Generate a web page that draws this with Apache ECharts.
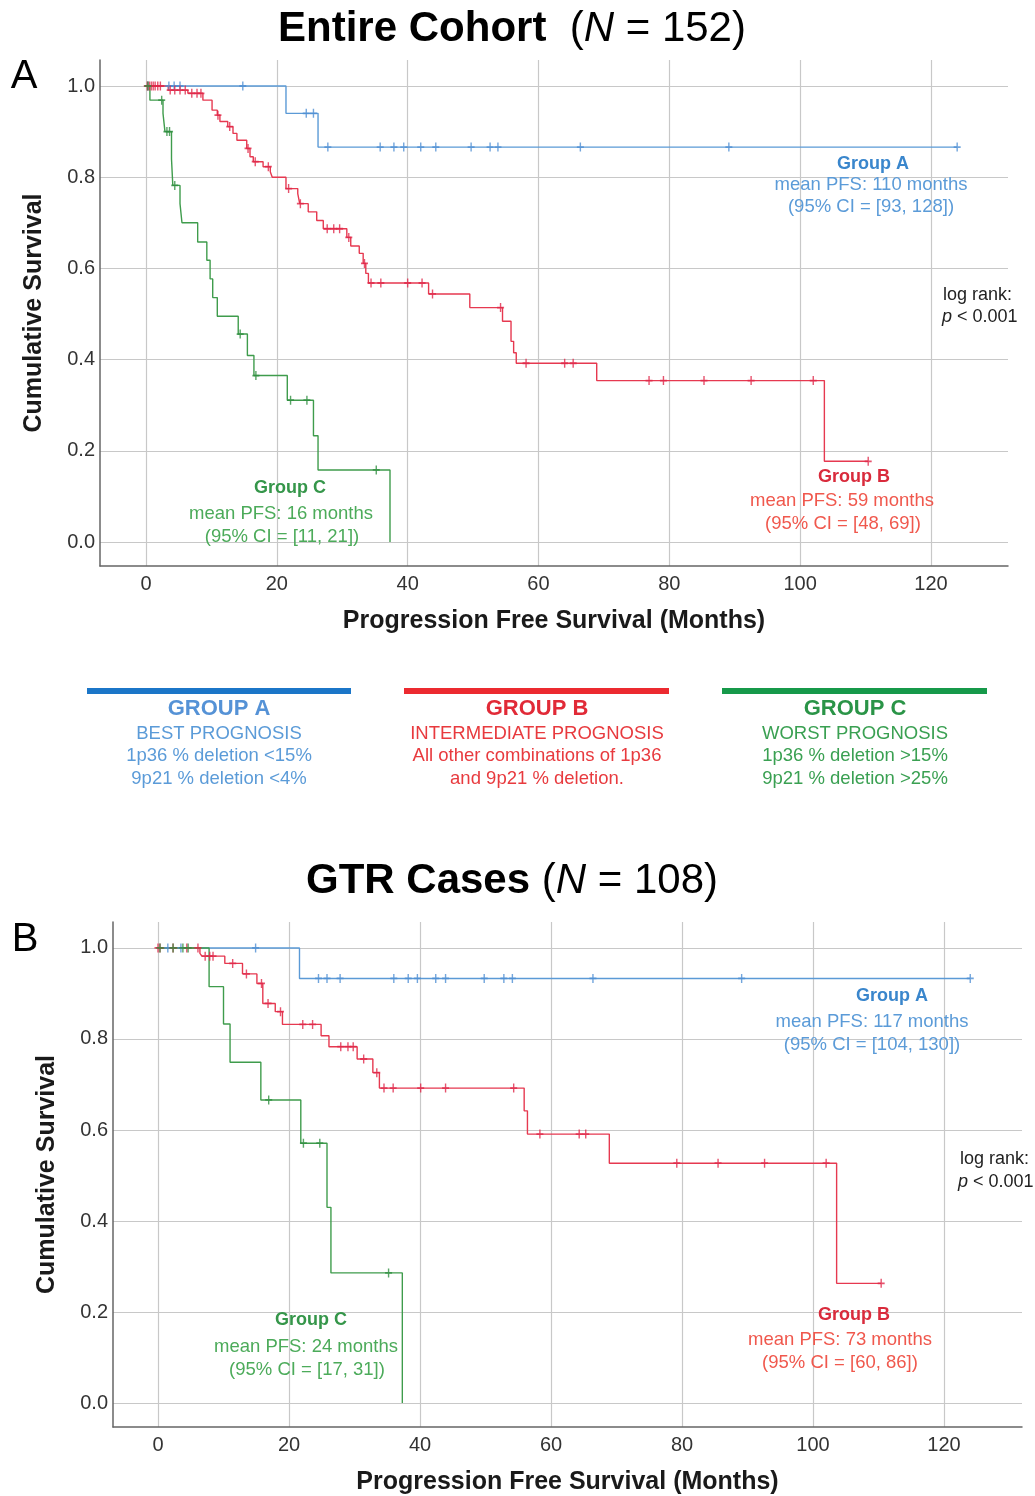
<!DOCTYPE html>
<html><head><meta charset="utf-8">
<script src="https://cdn.jsdelivr.net/npm/echarts@6/dist/echarts.min.js"></script>
<style>html,body{margin:0;padding:0;background:#fff}#c{width:1035px;height:1496px}</style>
</head><body><div id="c"></div>
<script>
const FONT = 'Liberation Sans, Arial, Helvetica, sans-serif';
const xTicks = [0, 20, 40, 60, 80, 100, 120];
const yTicks = [0, 0.2, 0.4, 0.6, 0.8, 1.0];

// ---- Panel A: Entire cohort ----
const aGrpATimes = [0, 21.4, 26.3];
const aGrpASurv  = [1, 0.94, 0.866];
const aGrpAEnd   = 124;
const aGrpACens  = [0.3, 3.5, 4.3, 5.2, 14.8, 24.5, 25.6, 27.8, 35.8, 37.9, 39.4, 42.0, 44.3, 49.7, 52.6, 53.8, 66.4, 89.1, 124.0];

const aGrpBTimes = [0, 3.4, 6.4, 8.7, 10.1, 10.9, 11.3, 12.5, 13.3, 13.9, 15.4, 15.9, 16.4, 17.9, 19.0, 19.3, 21.4, 23.2, 23.5, 24.8, 26.1, 27.1, 30.7, 31.3, 32.6, 33.2, 33.6, 34.0, 43.2, 49.5, 54.5, 55.8, 56.2, 56.6, 68.9, 103.7];
const aGrpBSurv  = [1, 0.991, 0.984, 0.969, 0.947, 0.936, 0.922, 0.911, 0.896, 0.881, 0.863, 0.845, 0.834, 0.823, 0.812, 0.80, 0.775, 0.764, 0.742, 0.724, 0.705, 0.687, 0.668, 0.649, 0.633, 0.611, 0.589, 0.568, 0.544, 0.514, 0.484, 0.44, 0.415, 0.392, 0.354, 0.177];
const aGrpBEnd   = 110.4;
const aGrpBCens  = [0.2, 0.5, 0.8, 1.1, 1.4, 1.8, 2.2, 3.7, 4.4, 5.2, 6.0, 7.0, 7.8, 8.4, 11.0, 12.8, 15.6, 16.7, 18.7, 21.8, 23.6, 27.7, 28.7, 29.6, 31.0, 33.4, 34.4, 35.9, 40.0, 42.2, 43.8, 54.2, 58.1, 64.0, 65.3, 76.9, 79.1, 85.3, 92.5, 102.0, 110.4];

const aGrpCTimes = [0, 0.6, 2.6, 2.9, 3.9, 4.1, 5.2, 5.5, 7.9, 9.3, 9.8, 10.2, 10.9, 14.1, 15.5, 16.5, 21.6, 25.6, 26.3, 37.3];
const aGrpCSurv  = [1, 0.969, 0.94, 0.90, 0.84, 0.782, 0.742, 0.70, 0.658, 0.618, 0.577, 0.536, 0.495, 0.456, 0.409, 0.365, 0.311, 0.233, 0.158, 0];
const aGrpCEnd   = 37.3;
const aGrpCCens  = [0.3, 2.4, 3.2, 3.6, 4.4, 14.4, 16.8, 22.1, 24.6, 35.2];

// ---- Panel B: GTR cases ----
const bGrpATimes = [0, 21.6];
const bGrpASurv  = [1, 0.933];
const bGrpAEnd   = 124;
const bGrpACens  = [1.5, 3.5, 14.9, 24.5, 25.8, 27.8, 36.0, 38.2, 39.6, 42.4, 43.9, 49.8, 52.8, 54.1, 66.4, 89.1, 124.0];

const bGrpBTimes = [0, 6.4, 6.7, 10.2, 12.9, 15.1, 16.0, 17.9, 19.0, 24.9, 26.1, 30.4, 32.8, 33.8, 55.9, 56.4, 68.9, 103.6];
const bGrpBSurv  = [1, 0.988, 0.982, 0.966, 0.943, 0.922, 0.878, 0.86, 0.832, 0.807, 0.783, 0.756, 0.726, 0.692, 0.642, 0.591, 0.527, 0.263];
const bGrpBEnd   = 110.4;
const bGrpBCens  = [0.0, 0.3, 2.3, 4.4, 6.1, 7.2, 7.9, 8.4, 11.4, 13.5, 15.8, 16.8, 18.7, 22.1, 23.6, 27.9, 29.0, 29.8, 31.4, 33.4, 34.5, 35.9, 40.1, 43.9, 54.3, 58.3, 64.3, 65.3, 79.2, 85.5, 92.6, 102.0, 110.4];

const bGrpCTimes = [0, 7.8, 10.0, 11.0, 15.7, 21.8, 25.8, 26.4, 37.3];
const bGrpCSurv  = [1, 0.915, 0.833, 0.749, 0.666, 0.571, 0.43, 0.286, 0];
const bGrpCEnd   = 37.3;
const bGrpCCens  = [0.3, 2.3, 3.8, 4.6, 16.9, 22.2, 24.7, 35.2];

// ---- styling ----
const COL = {
  A: { line: '#5b9ad6', mark: '#4f8fd3', title: '#3a86cc', text: '#5b9bd8', bar: '#1b76c8', lg: '#5592d6', lgt: '#5b9bd8' },
  B: { line: '#e63950', mark: '#e0284a', title: '#d92b3c', text: '#f0584d', bar: '#ec2a30', lg: '#e12a37', lgt: '#e83a3e' },
  C: { line: '#3f9c4c', mark: '#2f8f40', title: '#35964a', text: '#4cab5a', bar: '#16994a', lg: '#2a9447', lgt: '#3aa052' }
};
const PLUS = 'path://M4,0 H6 V4 H10 V6 H6 V10 H4 V6 H0 V4 H4 Z';

function stepData(times, surv, end) {
  const d = times.map((t, i) => [t, surv[i]]);
  if (end > times[times.length - 1]) d.push([end, surv[surv.length - 1]]);
  return d;
}
function survAt(times, surv, t) {
  let s = surv[0];
  for (let i = 0; i < times.length; i++) if (times[i] <= t) s = surv[i];
  return s;
}
function groupSeries(idx, times, surv, end, cens, c) {
  return [
    { type: 'line', xAxisIndex: idx, yAxisIndex: idx, step: 'end', showSymbol: false, silent: true,
      data: stepData(times, surv, end), lineStyle: { color: c.line, width: 1.4 }, z: 3 },
    { type: 'scatter', xAxisIndex: idx, yAxisIndex: idx, symbol: PLUS, symbolSize: [7, 9], silent: true,
      data: cens.map(t => [t, survAt(times, surv, t)]), itemStyle: { color: c.mark }, z: 4 }
  ];
}
function xAx(idx, min, max) {
  return { gridIndex: idx, type: 'value', min: min, max: max,
    name: 'Progression Free Survival (Months)', nameLocation: 'middle', nameGap: 43,
    nameTextStyle: { fontFamily: FONT, fontWeight: 'bold', fontSize: 25, color: '#1a1a1a' },
    axisLine: { show: true, onZero: false, lineStyle: { color: '#666', width: 1.5 } },
    axisTick: { show: false, customValues: xTicks },
    axisLabel: { customValues: xTicks, fontFamily: FONT, fontSize: 20, color: '#333', margin: 8 },
    splitLine: { show: true, lineStyle: { color: '#c8c8c8', width: 1.2 } } };
}
function yAx(idx) {
  return { gridIndex: idx, type: 'value', min: -0.0526, max: 1.057,
    name: 'Cumulative Survival', nameLocation: 'middle', nameGap: 53,
    nameTextStyle: { fontFamily: FONT, fontWeight: 'bold', fontSize: 25, color: '#1a1a1a' },
    axisLine: { show: true, onZero: false, lineStyle: { color: '#666', width: 1.5 } },
    axisTick: { show: false, customValues: yTicks },
    axisLabel: { customValues: yTicks, formatter: v => v.toFixed(1), fontFamily: FONT, fontSize: 20, color: '#333', margin: 5 },
    splitLine: { show: true, lineStyle: { color: '#c8c8c8', width: 1.2 } } };
}
function txt(x, y, text, fill, size, weight, align) {
  return { type: 'text', x: x, y: y, silent: true, z: 10,
    style: { text: text, fill: fill, fontFamily: FONT, fontSize: size, fontWeight: weight || 'normal',
      align: align || 'center', verticalAlign: 'middle',
      rich: { i: { fontStyle: 'italic', fontFamily: FONT, fontSize: size, fill: fill } } } };
}
function titleTxt(y, bold, n, rest) {
  return { type: 'text', x: 512, y: y, silent: true,
    style: { text: '{b|' + bold + '}{r|' + rest[0] + '}{i|' + n + '}{r|' + rest[1] + '}',
      align: 'center', verticalAlign: 'middle',
      rich: { b: { fontFamily: FONT, fontSize: 42, fontWeight: 'bold', fill: '#000' },
              r: { fontFamily: FONT, fontSize: 42, fill: '#000' },
              i: { fontFamily: FONT, fontSize: 42, fontStyle: 'italic', fill: '#000' } } } };
}

const graphics = [
  titleTxt(29, 'Entire Cohort', 'N', ['  (', ' = 152)']),
  titleTxt(881, 'GTR Cases', 'N', [' (', ' = 108)']),
  txt(24, 77, 'A', '#000', 40),
  txt(25, 940, 'B', '#000', 40),
  // Panel A annotations
  txt(873, 164, 'Group A', COL.A.title, 18, 'bold'),
  txt(871, 185, 'mean PFS: 110 months', COL.A.text, 18.5),
  txt(871, 207, '(95% CI = [93, 128])', COL.A.text, 18.5),
  txt(943, 295, 'log rank:', '#222', 18, 'normal', 'left'),
  txt(942, 317, '{i|p} < 0.001', '#222', 18, 'normal', 'left'),
  txt(854, 477, 'Group B', COL.B.title, 18, 'bold'),
  txt(842, 501, 'mean PFS: 59 months', COL.B.text, 18.5),
  txt(843, 524, '(95% CI = [48, 69])', COL.B.text, 18.5),
  txt(290, 488, 'Group C', COL.C.title, 18, 'bold'),
  txt(281, 514, 'mean PFS: 16 months', COL.C.text, 18.5),
  txt(282, 537, '(95% CI = [11, 21])', COL.C.text, 18.5),
  // Panel B annotations
  txt(892, 996, 'Group A', COL.A.title, 18, 'bold'),
  txt(872, 1022, 'mean PFS: 117 months', COL.A.text, 18.5),
  txt(872, 1045, '(95% CI = [104, 130])', COL.A.text, 18.5),
  txt(960, 1159, 'log rank:', '#222', 18, 'normal', 'left'),
  txt(958, 1182, '{i|p} < 0.001', '#222', 18, 'normal', 'left'),
  txt(854, 1315, 'Group B', COL.B.title, 18, 'bold'),
  txt(840, 1340, 'mean PFS: 73 months', COL.B.text, 18.5),
  txt(840, 1363, '(95% CI = [60, 86])', COL.B.text, 18.5),
  txt(311, 1320, 'Group C', COL.C.title, 18, 'bold'),
  txt(306, 1347, 'mean PFS: 24 months', COL.C.text, 18.5),
  txt(307, 1370, '(95% CI = [17, 31])', COL.C.text, 18.5),
  // Group legend blocks
  { type: 'rect', shape: { x: 87, y: 688, width: 264, height: 6 }, style: { fill: COL.A.bar }, silent: true },
  { type: 'rect', shape: { x: 404, y: 688, width: 265, height: 6 }, style: { fill: COL.B.bar }, silent: true },
  { type: 'rect', shape: { x: 722, y: 688, width: 265, height: 6 }, style: { fill: COL.C.bar }, silent: true },
  txt(219, 709, 'GROUP A', COL.A.lg, 22, 'bold'),
  txt(219, 734, 'BEST PROGNOSIS', COL.A.lgt, 18.5),
  txt(219, 756, '1p36 % deletion <15%', COL.A.lgt, 18.5),
  txt(219, 779, '9p21 % deletion <4%', COL.A.lgt, 18.5),
  txt(537, 709, 'GROUP B', COL.B.lg, 22, 'bold'),
  txt(537, 734, 'INTERMEDIATE PROGNOSIS', COL.B.lgt, 18.5),
  txt(537, 756, 'All other combinations of 1p36', COL.B.lgt, 18.5),
  txt(537, 779, 'and 9p21 % deletion.', COL.B.lgt, 18.5),
  txt(855, 709, 'GROUP C', COL.C.lg, 22, 'bold'),
  txt(855, 734, 'WORST PROGNOSIS', COL.C.lgt, 18.5),
  txt(855, 756, '1p36 % deletion >15%', COL.C.lgt, 18.5),
  txt(855, 779, '9p21 % deletion >25%', COL.C.lgt, 18.5)
];

const series = [].concat(
  groupSeries(0, aGrpATimes, aGrpASurv, aGrpAEnd, aGrpACens, COL.A),
  groupSeries(0, aGrpBTimes, aGrpBSurv, aGrpBEnd, aGrpBCens, COL.B),
  groupSeries(0, aGrpCTimes, aGrpCSurv, aGrpCEnd, aGrpCCens, COL.C),
  groupSeries(1, bGrpATimes, bGrpASurv, bGrpAEnd, bGrpACens, COL.A),
  groupSeries(1, bGrpBTimes, bGrpBSurv, bGrpBEnd, bGrpBCens, COL.B),
  groupSeries(1, bGrpCTimes, bGrpCSurv, bGrpCEnd, bGrpCCens, COL.C)
);

const chart = echarts.init(document.getElementById('c'), null, { renderer: 'canvas' });
chart.setOption({
  backgroundColor: '#fff',
  animation: false,
  grid: [
    { left: 100, top: 60, width: 908, height: 506 },
    { left: 113, top: 922, width: 909, height: 506 }
  ],
  xAxis: [xAx(0, -7.03, 131.77), xAx(1, -6.87, 131.9)],
  yAxis: [yAx(0), yAx(1)],
  series: series,
  graphic: graphics
});
</script>
</body></html>
